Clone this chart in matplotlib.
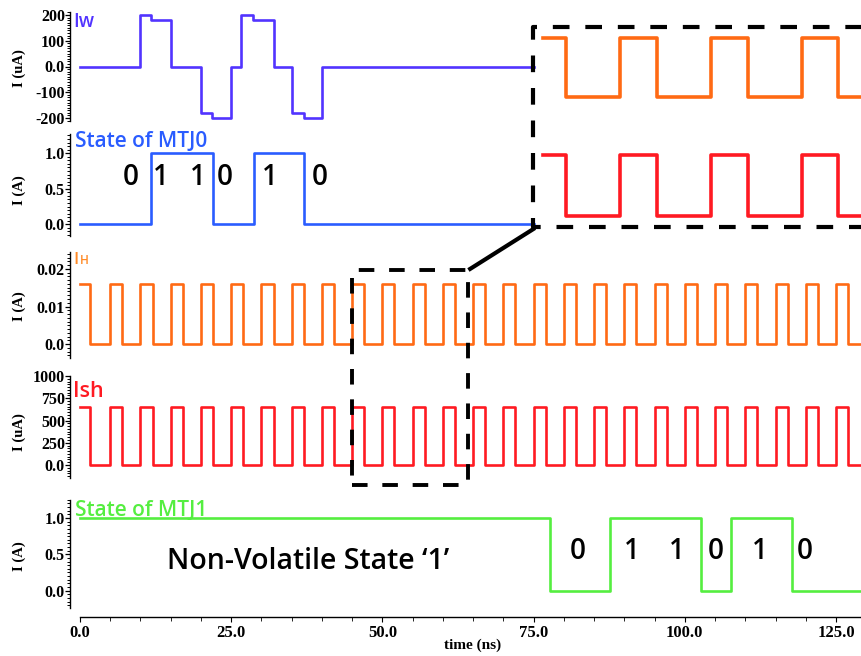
import matplotlib
matplotlib.use('Agg')
import matplotlib.pyplot as plt
import matplotlib.transforms as mtransforms
from matplotlib.lines import Line2D
from matplotlib.ticker import MultipleLocator, FixedLocator, FixedFormatter

# ---------------- data ----------------
iw_time = [0, 10.0, 11.7, 15.1, 20.0, 21.9, 24.9, 26.7, 28.6, 32.1, 35.1, 37.1, 40.0, 75.0]
iw_uA = [0, 200, 180, 0, -180, -200, 0, 200, 180, 0, -180, -200, 0, 0]

mtj0_time = [0, 11.8, 22.0, 28.8, 37.0, 75.0]
mtj0_state = [0, 1, 0, 1, 0, 0]

pulse_rise = [0, 5, 10, 15, 20, 25, 30, 35, 40, 45, 50, 55, 60, 65, 70, 75,
              80, 85, 90, 95, 100, 105, 110, 115, 120, 125]
pulse_fall = [1.7, 7, 12, 17, 22, 27, 32, 37, 42, 47, 52, 57, 62, 67, 72, 77,
              82, 87, 92, 97, 102, 107, 112, 117, 122, 127]
ih_high_A = 0.016
ish_high_uA = 655
t_end = 129.3

mtj1_time = [0, 77.7, 87.6, 102.7, 107.7, 117.7, t_end]
mtj1_state = [1, 0, 1, 0, 1, 0, 0]

bits = ['0', '1', '1', '0', '1', '0']
mtj0_bit_t = [8.4, 13.4, 19.5, 24.0, 31.4, 39.7]
mtj1_bit_t = [82.3, 91.2, 98.7, 105.1, 112.4, 119.8]

x_ticks = [0, 25, 50, 75, 100, 125]
x_ticklabels = ['0.0', '25.0', '50.0', '75.0', '100.0', '125.0']

p1_ticks = [200, 100, 0, -100, -200]
p1_labels = ['200', '100', '0.0', '-100', '-200']
state_ticks = [1.0, 0.5, 0.0]
state_labels = ['1.0', '0.5', '0.0']
ih_ticks = [0.02, 0.01, 0.0]
ih_labels = ['0.02', '0.01', '0.0']
ish_ticks = [1000, 750, 500, 250, 0]
ish_labels = ['1000', '750', '500', '250', '0.0']

zoom_window = (45.75, 63.3)   # region magnified in the inset
small_box_t = (45.0, 64.2)

# ---------------- styling ----------------
W, H = 862, 656
c_iw = '#5234FF'
c_mtj0 = '#2A5CFF'
c_ih = '#FF6A14'
c_ih_txt = '#FF8A26'
c_ish = '#FF1A22'
c_mtj1 = '#55EE40'
serif = 'Liberation Serif'
sans = 'Open Sans'
sw = 'semibold'
lw_main = 1.9

fig = plt.figure(figsize=(W / 100, H / 100), dpi=100)
fig.patch.set_facecolor('white')
px = mtransforms.Affine2D().scale(1 / W, -1 / H).translate(0, 1) + fig.transFigure

t_left = -10 / 6.05
t_right = t_end


def add_ax(top, bottom, left=70, right=862):
    return fig.add_axes([left / W, 1 - bottom / H, (right - left) / W, (bottom - top) / H])


def pulse_steps(rises, falls, high, t_stop):
    tt, vv = [], []
    for r, f in zip(rises, falls):
        tt += [r, f]
        vv += [high, 0]
    tt.append(t_stop)
    vv.append(0)
    return tt, vv


def style_panel(ax, ylim, ticks, labels, minor, bottom=False):
    ax.set_facecolor('none')
    ax.set_xlim(t_left, t_right)
    ax.set_ylim(*ylim)
    for s in ['top', 'right']:
        ax.spines[s].set_visible(False)
    ax.spines['left'].set_linewidth(1.0)
    ax.yaxis.set_major_locator(FixedLocator(ticks))
    ax.yaxis.set_major_formatter(FixedFormatter(labels))
    ax.yaxis.set_minor_locator(MultipleLocator(minor))
    ax.tick_params(axis='y', which='major', direction='out', length=3.6, width=0.9, pad=0)
    ax.tick_params(axis='y', which='minor', direction='out', length=2.2, width=0.7)
    for lab in ax.get_yticklabels():
        lab.set_fontfamily(serif)
        lab.set_fontweight('bold')
        lab.set_fontsize(11.5)
    if not bottom:
        ax.spines['bottom'].set_visible(False)
        ax.xaxis.set_visible(False)


# Panel 1: Iw
ax1 = add_ax(12.4, 120.6)
ax1.step(iw_time, iw_uA, where='post', color=c_iw, lw=lw_main)
style_panel(ax1, (-210, 210), p1_ticks, p1_labels, 10)

# Panel 2: state of MTJ0
ax2 = add_ax(134.0, 236.4)
ax2.step(mtj0_time, mtj0_state, where='post', color=c_mtj0, lw=lw_main)
style_panel(ax2, (-0.17, 1.27), state_ticks, state_labels, 0.05)
for b, t in zip(bits, mtj0_bit_t):
    ax2.text(t, 0.55, b, ha='center', va='baseline', fontsize=20, family=sans,
             fontweight=sw, color='black')

# Panel 3: IH
ih_t, ih_v = pulse_steps(pulse_rise, pulse_fall, ih_high_A, t_end)
ax3 = add_ax(252.1, 357.9)
ax3.step(ih_t, ih_v, where='post', color=c_ih, lw=lw_main)
style_panel(ax3, (-0.0037, 0.0245), ih_ticks, ih_labels, 0.001)

# Panel 4: Ish
ish_t, ish_v = pulse_steps(pulse_rise, pulse_fall, ish_high_uA, t_end)
ax4 = add_ax(376.0, 477.5)
ax4.step(ish_t, ish_v, where='post', color=c_ish, lw=lw_main)
style_panel(ax4, (-140, 1000), ish_ticks, ish_labels, 31.25)

# Panel 5: state of MTJ1
ax5 = add_ax(499.8, 608.1)
ax5.step(mtj1_time, mtj1_state, where='post', color=c_mtj1, lw=lw_main)
style_panel(ax5, (-0.24, 1.25), state_ticks, state_labels, 0.05, bottom=True)
for b, t in zip(bits, mtj1_bit_t):
    ax5.text(t, 0.43, b, ha='center', va='baseline', fontsize=20, family=sans,
             fontweight=sw, color='black')
ax5.spines['bottom'].set_position(('outward', 6.5))
ax5.spines['bottom'].set_bounds(0, t_right)
ax5.spines['bottom'].set_linewidth(1.0)
ax5.xaxis.set_major_locator(FixedLocator(x_ticks))
ax5.xaxis.set_major_formatter(FixedFormatter(x_ticklabels))
ax5.xaxis.set_minor_locator(MultipleLocator(5))
ax5.tick_params(axis='x', which='major', direction='out', length=3.6, width=0.8, pad=2)
ax5.tick_params(axis='x', which='minor', direction='out', length=2.9, width=0.6)
for lab in ax5.get_xticklabels():
    lab.set_fontfamily(serif)
    lab.set_fontweight('bold')
    lab.set_fontsize(12)

# y labels
for (xp, yp, s) in [(19, 68, 'I (uA)'), (19, 190, 'I (A)'), (19, 306, 'I (A)'),
                    (19, 432, 'I (uA)'), (19, 556, 'I (A)')]:
    fig.text(xp, yp, s, transform=px, rotation=90, ha='center', va='center',
             family=serif, fontweight='bold', fontsize=10.5)
fig.text(473, 645, 'time (ns)', transform=px, ha='center', va='center',
         family=serif, fontweight='bold', fontsize=11)

# signal names
fig.text(73, 27, 'Iw', transform=px, color=c_iw, family=sans, fontweight=sw,
         fontsize=13.5, va='baseline')
fig.text(75, 146.7, 'State of MTJ0', transform=px, color=c_mtj0, family=sans,
         fontweight=sw, fontsize=15, va='baseline')
fig.text(73.5, 264, 'I', transform=px, color=c_ih_txt, family=sans, fontweight=sw,
         fontsize=12, va='baseline')
fig.text(80, 264, 'H', transform=px, color=c_ih_txt, family=sans, fontweight=sw,
         fontsize=8.5, va='baseline')
fig.text(73, 397, 'Ish', transform=px, color=c_ish, family=sans, fontweight=sw,
         fontsize=15.5, va='baseline')
fig.text(75, 516, 'State of MTJ1', transform=px, color=c_mtj1, family=sans,
         fontweight=sw, fontsize=15, va='baseline')
fig.text(167, 569, 'Non-Volatile State \u20181\u2019', transform=px, color='black',
         family=sans, fontweight=sw, fontsize=20.5, va='baseline')


# magnified inset (same data, zoomed time window)
def window(tt, vv, lo, hi):
    tt = list(tt)
    vv = list(vv)
    idx = max(i for i, t in enumerate(tt) if t <= lo)
    wt, wv = [lo], [vv[idx]]
    for t, v in zip(tt, vv):
        if lo < t < hi:
            wt.append(t)
            wv.append(v)
    wt.append(hi)
    wv.append(wv[-1])
    return wt, wv


in_t0 = 50 - 87 / 18.2
in_t1 = 50 + 242 / 18.2
axo = add_ax(30.2, 104.7, left=533.3, right=862)
wt, wv = window(ih_t, ih_v, *zoom_window)
axo.step(wt, wv, where='post', color=c_ih, lw=2.6)
axo.set_xlim(in_t0, in_t1)
axo.set_ylim(-0.002, 0.018)
axo.axis('off')

axr = add_ax(148.9, 221.6, left=533.3, right=862)
wt, wv = window(ish_t, ish_v, *zoom_window)
axr.step(wt, wv, where='post', color=c_ish, lw=2.6)
axr.set_xlim(in_t0, in_t1)
axr.set_ylim(-60, 720)
axr.axis('off')

# dashed boxes and connector
dash = (0, (4.0, 3.8))
big = Line2D([875, 533.3, 533.3, 875], [26.7, 26.7, 227.3, 227.3], transform=px,
             color='black', lw=3.0, linestyle=dash, dash_capstyle='butt')
fig.add_artist(big)
blend = mtransforms.blended_transform_factory(ax5.transData, px)
a, b = small_box_t
small = Line2D([a, b, b, a, a], [485, 485, 270, 270, 485], transform=blend,
               color='black', lw=2.8, linestyle=dash, dash_capstyle='butt')
fig.add_artist(small)
conn = Line2D([468.4, 535], [270, 228], transform=px, color='black', lw=3.0,
              solid_capstyle='butt')
fig.add_artist(conn)

fig.savefig('out.png', dpi=100, facecolor='white')
